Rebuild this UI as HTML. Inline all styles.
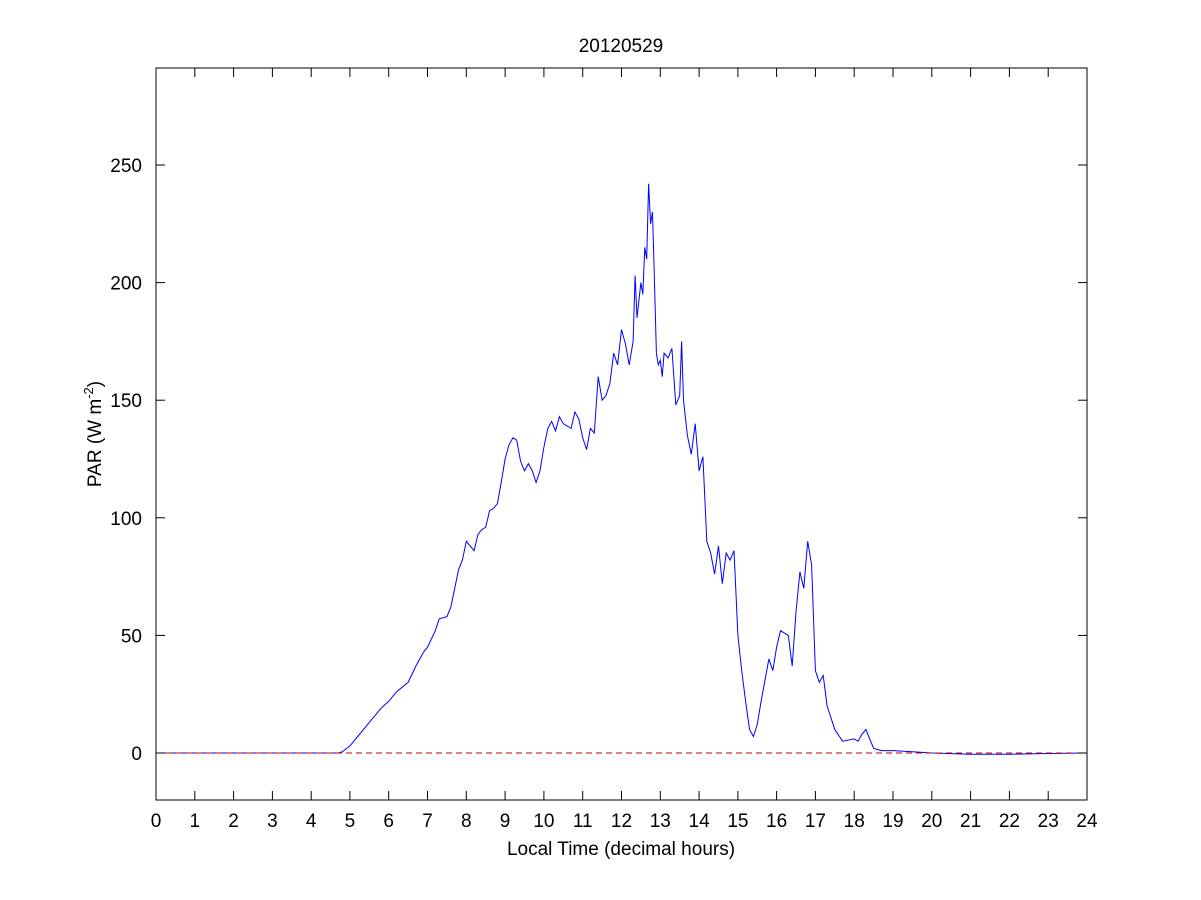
<!DOCTYPE html>
<html><head><meta charset="utf-8"><style>body{margin:0;background:#fff}svg{display:block}</style></head>
<body>
<svg id="s" width="1201" height="900" xmlns="http://www.w3.org/2000/svg" font-family="Liberation Sans, Arial, sans-serif" font-size="19">
<rect width="1201" height="900" fill="#fff"/>
<polyline id="pl" fill="none" stroke="#0000ff" stroke-width="1" points=""/>
<line x1="156" y1="753" x2="1087" y2="753" stroke="#c00000" stroke-width="1" stroke-dasharray="6,4"/>
<rect x="156" y="68" width="931" height="732" fill="none" stroke="#000" stroke-width="1"/>
<g id="ticks" stroke="#000" stroke-width="1"></g>
<g id="labels" fill="#000"></g>
<text x="621" y="52" text-anchor="middle">20120529</text>
<text x="621" y="855" text-anchor="middle">Local Time (decimal hours)</text>
<text transform="translate(101,434) rotate(-90)" text-anchor="middle">PAR (W m<tspan dy="-8" font-size="13">-2</tspan><tspan dy="8">)</tspan></text>
</svg>
<script>
var X=h=>156+h*38.79,Y=v=>753-v*2.352;
var d=[[0,0],[4.7,0],[4.8,.5],[5,3],[5.2,7],[5.5,13],[5.8,19],[6,22],[6.2,26],[6.5,30],[6.7,37],[6.9,43],[7,45],[7.2,52],[7.3,57],[7.5,58],[7.6,62],[7.7,70],[7.8,78],[7.9,82],[8,90],[8.1,88],[8.2,86],[8.3,93],[8.4,95],[8.5,96],[8.6,103],[8.7,104],[8.8,106],[8.9,115],[9,125],[9.1,131],[9.2,134],[9.3,133],[9.4,124],[9.5,120],[9.6,123],[9.7,120],[9.8,115],[9.9,120],[10,130],[10.1,138],[10.2,141],[10.3,137],[10.4,143],[10.5,140],[10.7,138],[10.8,145],[10.9,142],[11,134],[11.1,129],[11.2,138],[11.3,136],[11.4,160],[11.5,150],[11.6,152],[11.7,157],[11.8,170],[11.9,165],[12,180],[12.1,174],[12.2,165],[12.3,175],[12.35,203],[12.4,185],[12.5,200],[12.55,195],[12.6,215],[12.65,210],[12.7,242],[12.75,225],[12.8,230],[12.85,200],[12.9,170],[12.95,165],[13,167],[13.05,160],[13.1,170],[13.2,168],[13.3,172],[13.4,148],[13.5,152],[13.55,175],[13.6,150],[13.7,135],[13.8,127],[13.9,140],[14,120],[14.1,126],[14.2,90],[14.3,85],[14.4,76],[14.5,88],[14.6,72],[14.7,85],[14.8,82],[14.9,86],[15,50],[15.1,35],[15.2,22],[15.3,10],[15.4,7],[15.5,12],[15.6,22],[15.8,40],[15.9,35],[16,45],[16.1,52],[16.3,50],[16.4,37],[16.5,60],[16.6,77],[16.7,70],[16.8,90],[16.9,80],[17,35],[17.1,30],[17.2,33],[17.3,20],[17.5,10],[17.7,5],[18,6],[18.1,5],[18.2,8],[18.3,10],[18.4,6],[18.5,2],[18.7,1],[19,1],[19.5,.5],[20,0],[21,-.5],[22,-.5],[23,-.2],[24,0]];
document.getElementById('pl').setAttribute('points',d.map(p=>X(p[0]).toFixed(1)+','+Y(p[1]).toFixed(1)).join(' '));
var t='',l='';
for(var h=0;h<=24;h++){var x=X(h).toFixed(1);t+=`<line x1="${x}" y1="800" x2="${x}" y2="791"/><line x1="${x}" y1="68" x2="${x}" y2="77"/>`;l+=`<text x="${x}" y="827" text-anchor="middle">${h}</text>`;}
for(var v=0;v<=250;v+=50){var y=Y(v).toFixed(1);t+=`<line x1="156" y1="${y}" x2="165" y2="${y}"/><line x1="1087" y1="${y}" x2="1078" y2="${y}"/>`;l+=`<text x="142" y="${(+y+7)}" text-anchor="end">${v}</text>`;}
document.getElementById('ticks').innerHTML=t;document.getElementById('labels').innerHTML=l;
</script>
</body></html>
